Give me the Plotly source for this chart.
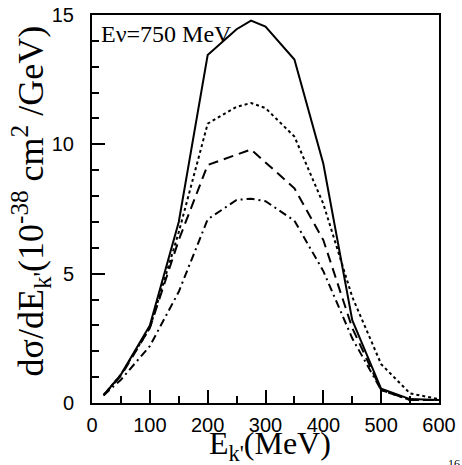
import plotly.graph_objects as go

# Kinetic energy of outgoing particle (MeV)
ek = [20, 50, 100, 150, 200, 250, 275, 300, 350, 400, 450, 500, 550, 600]

# cross sections (10^-38 cm^2/GeV)
solid = [0.3, 1.1, 3.0, 7.0, 13.45, 14.45, 14.78, 14.55, 13.28, 9.25, 3.2, 0.55, 0.15, 0.12]
dotted = [0.3, 1.1, 2.9, 6.6, 10.8, 11.45, 11.6, 11.4, 10.3, 7.7, 4.1, 1.5, 0.37, 0.15]
dashed = [0.3, 1.05, 2.9, 6.3, 9.2, 9.6, 9.8, 9.3, 8.3, 6.3, 2.9, 0.5, 0.12, 0.12]
dashdot = [0.3, 0.9, 2.2, 4.3, 7.1, 7.85, 7.9, 7.8, 7.05, 5.1, 2.5, 0.5, 0.12, 0.12]

x_ticks = [0, 100, 200, 300, 400, 500, 600]
y_ticks = [0, 5, 10, 15]

fig = go.Figure()
styles = [
    (solid, "solid"),
    (dotted, "dot"),
    (dashed, "10px,6px"),
    (dashdot, "8px,4px,2px,4px"),
]
for ys, dash in styles:
    fig.add_trace(go.Scatter(x=ek, y=ys, mode="lines",
                             line=dict(color="black", width=2, dash=dash),
                             showlegend=False))

tickfont = dict(family="Liberation Sans, Arial, sans-serif", size=20, color="black")
fig.update_xaxes(range=[0, 600], tickvals=x_ticks, ticks="inside", ticklen=13,
                 tickwidth=2, tickcolor="black", showline=True, linewidth=2,
                 linecolor="black", mirror=True, showgrid=False, zeroline=False,
                 tickfont=tickfont, ticklabelstandoff=3, automargin=False,
                 minor=dict(dtick=50, ticks="inside", ticklen=7, tickwidth=2,
                            tickcolor="black", showgrid=False))
fig.update_yaxes(range=[0, 15], tickvals=y_ticks, ticks="inside", ticklen=13,
                 tickwidth=2, tickcolor="black", showline=True, linewidth=2,
                 linecolor="black", mirror=True, showgrid=False, zeroline=False,
                 tickfont=tickfont, ticklabelstandoff=12, automargin=False,
                 minor=dict(dtick=1, ticks="inside", ticklen=7, tickwidth=2,
                            tickcolor="black", showgrid=False))

serif = "Liberation Serif, Times New Roman, serif"
fig.add_annotation(text="E\u03bd=750 MeV", xref="paper", yref="paper",
                   x=0.02, y=0.952, xanchor="left", yanchor="middle",
                   showarrow=False, font=dict(family=serif, size=24, color="black"))
fig.add_annotation(text="E<sub>k'</sub>(MeV)", xref="paper", yref="paper",
                   x=0.513, y=-0.11, xanchor="center", yanchor="middle",
                   showarrow=False, font=dict(family=serif, size=32, color="black"))
fig.add_annotation(text="d\u03c3/dE<sub>k'</sub>(10<sup>-38</sup> cm<sup>2</sup> /GeV)",
                   xref="paper", yref="paper", x=-0.175, y=0.52,
                   xanchor="center", yanchor="middle", textangle=-90,
                   showarrow=False, font=dict(family=serif, size=36, color="black"))
fig.add_annotation(text="16", xref="paper", yref="paper", x=1.02, y=-0.135,
                   xanchor="left", yanchor="top", showarrow=False,
                   font=dict(family=serif, size=12, color="black"))

fig.update_layout(width=462, height=465, margin=dict(l=92, r=23, t=15, b=62),
                  paper_bgcolor="white", plot_bgcolor="white")
fig.write_html("out.html")
